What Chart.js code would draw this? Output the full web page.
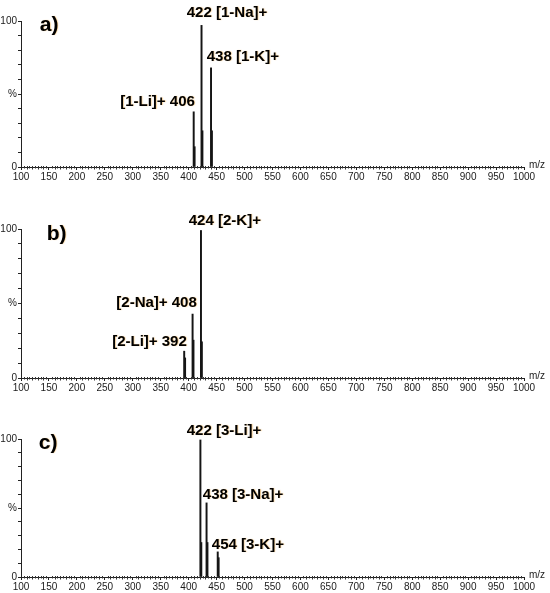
<!DOCTYPE html>
<html>
<head>
<meta charset="utf-8">
<script src="https://cdn.jsdelivr.net/npm/chart.js@4/dist/chart.umd.min.js"></script>
<style>
html, body { margin: 0; padding: 0; background: #fff; width: 550px; height: 593px; overflow: hidden; }
canvas { position: absolute; left: 0; }
</style>
</head>
<body>
<canvas id="specA" width="550" height="183" style="top:0px"></canvas>
<canvas id="specB" width="550" height="185" style="top:209px"></canvas>
<canvas id="specC" width="550" height="174" style="top:419px"></canvas>
<script>
// peaks (m/z, relative intensity %)
const mzA = [409, 423, 440];
const relA = [37.8, 97, 67.9];
const isoMzA = [410.6, 424.6, 441.6];
const isoA = [13.9, 24.8, 24.8];
const ionsA = ['[1-Li]+ 406', '422 [1-Na]+', '438 [1-K]+'];

const mzB = [392, 407, 422];
const relB = [18, 42.9, 99];
const isoMzB = [393.6, 408.6, 423.6];
const isoB = [13.5, 25.4, 24.3];
const ionsB = ['[2-Li]+ 392', '[2-Na]+ 408', '424 [2-K]+'];

const mzC = [421, 432, 452];
const relC = [99.3, 53.7, 18.2];
const isoMzC = [422.6, 433.6, 453.6];
const isoC = [25, 25, 14];
const ionsC = ['422 [3-Li]+', '438 [3-Na]+', '454 [3-K]+'];

const panelNames = ['a)', 'b)', 'c)'];
const xTickStep = 50;
const yTickLabels = { 0: '0', 50: '%', 100: '100' };

// where the peak labels sit (m/z, %), and which side they hang from
const labelXA = [411, 396.6, 432.4], labelYA = [44.4, 105.3, 75.2], alignA = ['right', 'left', 'left'];
const labelXB = [396.6, 414.5, 400.2], labelYB = [24.1, 50.3, 105.6], alignB = ['right', 'right', 'left'];
const labelXC = [396.6, 425.3, 441.4], labelYC = [105.8, 59.3, 23], alignC = ['left', 'left', 'left'];
const nameX = [133.5, 146, 131.7], nameY = [97, 96.2, 97.1];

const FONT = '"Liberation Sans", Arial, sans-serif';
const INK = '#151515';

const spectrumDecor = {
    id: 'spectrumDecor',
    afterDraw(chart, args, opts) {
        const { ctx, chartArea } = chart;
        const xs = chart.scales.x, ys = chart.scales.y;
        ctx.save();
        // minor ticks along m/z axis
        ctx.strokeStyle = '#333';
        ctx.lineWidth = 1;
        ctx.beginPath();
        for (let v = 105; v < 1000; v += 5) {
            if (v % 50 === 0) continue;
            const px = Math.round(xs.getPixelForValue(v)) + 0.5;
            const len = v % 10 === 0 ? 2.5 : 1.5;
            ctx.moveTo(px, chartArea.bottom - 1);
            ctx.lineTo(px, chartArea.bottom + len);
        }
        ctx.stroke();

        ctx.fillStyle = '#222';
        ctx.font = '10px ' + FONT;
        ctx.textAlign = 'left';
        ctx.textBaseline = 'middle';
        ctx.fillText('m/z', chartArea.right + 5, chartArea.bottom - 2);

        // ion labels
        ctx.font = 'bold 15px ' + FONT;
        ctx.fillStyle = '#000';
        ctx.shadowColor = 'rgba(240,150,20,0.45)';
        ctx.shadowBlur = 1;
        ctx.shadowOffsetX = 0.8;
        opts.labels.forEach((t, i) => {
            ctx.textAlign = opts.align[i];
            ctx.fillText(t, xs.getPixelForValue(opts.lx[i]), ys.getPixelForValue(opts.ly[i]));
        });

        // panel letter
        ctx.font = 'bold 21px ' + FONT;
        ctx.textAlign = 'left';
        ctx.fillText(opts.name, xs.getPixelForValue(opts.nx), ys.getPixelForValue(opts.ny));
        ctx.restore();
    }
};

function makeSpectrum(id, mz, rel, isoMz, iso, ions, lx, ly, align, idx, padTop) {
    const ctx = document.getElementById(id).getContext('2d');
    return new Chart(ctx, {
        type: 'bar',
        data: {
            datasets: [
                {
                    data: mz.map((m, i) => ({ x: m, y: rel[i] })),
                    backgroundColor: INK,
                    barThickness: 1.3,
                    grouped: false
                },
                {
                    data: isoMz.map((m, i) => ({ x: m, y: iso[i] })),
                    backgroundColor: INK,
                    barThickness: 1.3,
                    grouped: false
                }
            ]
        },
        options: {
            responsive: false,
            animation: false,
            events: [],
            layout: { padding: { top: padTop, right: 26, left: 0, bottom: 0 } },
            plugins: {
                legend: { display: false },
                tooltip: { enabled: false },
                spectrumDecor: {
                    labels: ions, lx: lx, ly: ly, align: align,
                    name: panelNames[idx], nx: nameX[idx], ny: nameY[idx]
                }
            },
            scales: {
                x: {
                    type: 'linear',
                    min: 100,
                    max: 1000,
                    offset: false,
                    grid: { drawOnChartArea: false, tickLength: 3, color: '#222', offset: false },
                    border: { color: '#222', width: 1 },
                    ticks: {
                        stepSize: xTickStep,
                        autoSkip: false,
                        maxRotation: 0,
                        padding: 1,
                        color: '#1a1a1a',
                        font: { family: FONT, size: 10 },
                        callback: v => String(v)
                    },
                    afterFit(scale) { scale.height = 16; }
                },
                y: {
                    min: 0,
                    max: 100,
                    grid: { drawOnChartArea: false, tickLength: 3, color: '#222' },
                    border: { color: '#222', width: 1 },
                    ticks: {
                        stepSize: 10,
                        autoSkip: false,
                        padding: 1,
                        color: '#1a1a1a',
                        font: { family: FONT, size: 10 },
                        callback: v => (v in yTickLabels ? yTickLabels[v] : '')
                    },
                    afterFit(scale) { scale.width = 21; }
                }
            }
        },
        plugins: [spectrumDecor]
    });
}

makeSpectrum('specA', mzA, relA, isoMzA, isoA, ionsA, labelXA, labelYA, alignA, 0, 21);
makeSpectrum('specB', mzB, relB, isoMzB, isoB, ionsB, labelXB, labelYB, alignB, 1, 20);
makeSpectrum('specC', mzC, relC, isoMzC, isoC, ionsC, labelXC, labelYC, alignC, 2, 20);
</script>
</body>
</html>
